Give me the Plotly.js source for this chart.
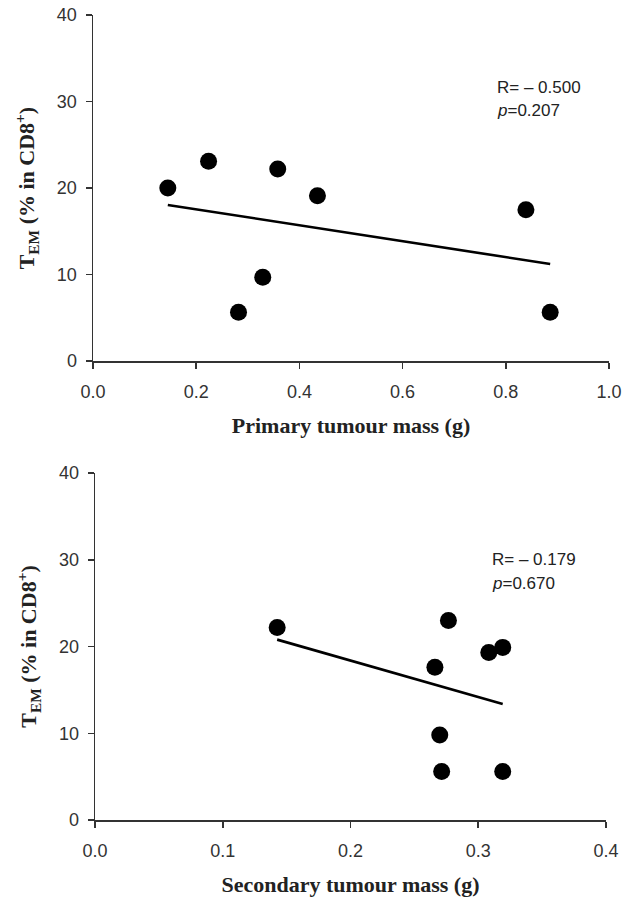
<!DOCTYPE html>
<html>
<head>
<meta charset="utf-8">
<script src="https://cdn.plot.ly/plotly-3.0.1.min.js"></script>
<style>html,body{margin:0;padding:0;background:#fff;}#chart{width:625px;height:899px;}</style>
</head>
<body>
<div id="chart"></div>
<script>
// Top panel: primary tumour mass vs T_EM
const primaryMass = [0.145, 0.224, 0.282, 0.329, 0.358, 0.435, 0.839, 0.886];
const primaryTEM  = [20.0, 23.1, 5.65, 9.7, 22.2, 19.1, 17.5, 5.65];
// Bottom panel: secondary tumour mass vs T_EM
const secondaryMass = [0.1426, 0.2767, 0.2661, 0.3083, 0.3192, 0.2699, 0.2714, 0.3192];
const secondaryTEM  = [22.2, 23.0, 17.6, 19.3, 19.9, 9.8, 5.6, 5.6];
// Statistics text
const statsPrimary = ["R= \u2013 0.500", "0.207"];
const statsSecondary = ["R= \u2013 0.179", "0.670"];
const xTicksPrimary = [0, 0.2, 0.4, 0.6, 0.8, 1.0];
const xTickTextPrimary = ["0.0", "0.2", "0.4", "0.6", "0.8", "1.0"];
const xTicksSecondary = [0, 0.1, 0.2, 0.3, 0.4];
const xTickTextSecondary = ["0.0", "0.1", "0.2", "0.3", "0.4"];
const yTicks = [0, 10, 20, 30, 40];

function linfit(x, y) {
  const n = x.length;
  const mx = x.reduce((a, b) => a + b, 0) / n;
  const my = y.reduce((a, b) => a + b, 0) / n;
  let sxy = 0, sxx = 0;
  for (let i = 0; i < n; i++) { sxy += (x[i] - mx) * (y[i] - my); sxx += (x[i] - mx) ** 2; }
  const b = sxy / sxx, a = my - b * mx;
  const x0 = Math.min(...x), x1 = Math.max(...x);
  return { x: [x0, x1], y: [a + b * x0, a + b * x1] };
}
const fit1 = linfit(primaryMass, primaryTEM);
const fit2 = linfit(secondaryMass, secondaryTEM);

const markerStyle = { color: "#000", size: 17 };
const lineStyle = { color: "#000", width: 2.6 };

const traces = [
  { x: fit1.x, y: fit1.y, mode: "lines", line: lineStyle, xaxis: "x", yaxis: "y", hoverinfo: "skip" },
  { x: primaryMass, y: primaryTEM, mode: "markers", marker: markerStyle, xaxis: "x", yaxis: "y" },
  { x: fit2.x, y: fit2.y, mode: "lines", line: lineStyle, xaxis: "x2", yaxis: "y2", hoverinfo: "skip" },
  { x: secondaryMass, y: secondaryTEM, mode: "markers", marker: markerStyle, xaxis: "x2", yaxis: "y2" }
];

const tickFont = { family: "Liberation Sans, Arial, sans-serif", size: 18, color: "#333" };
const xTitleFont = { family: "Liberation Serif, Times New Roman, serif", size: 22, color: "#222" };
const yTitleFont = { family: "Liberation Serif, Times New Roman, serif", size: 22, color: "#222" };
const yTitle = "<b>T<sub>EM</sub> (% in CD8<sup>+</sup>)</b>";

function xAxis(range, tv, tt, title, anchor, domain) {
  return {
    range: range, tickvals: tv, ticktext: tt, showgrid: false, zeroline: false,
    showline: true, linecolor: "#333", linewidth: 1.5, ticks: "outside", ticklen: 6,
    tickcolor: "#333", tickwidth: 1.5, tickfont: tickFont, ticklabelstandoff: 8,
    anchor: anchor, domain: domain,
    title: { text: "<b>" + title + "</b>", font: xTitleFont, standoff: 16 }
  };
}
function yAxis(domain, anchor) {
  return {
    range: [0, 40], tickvals: yTicks, showgrid: false, zeroline: false,
    showline: true, linecolor: "#333", linewidth: 1.5, ticks: "outside", ticklen: 6,
    tickcolor: "#333", tickwidth: 1.5, tickfont: tickFont, ticklabelstandoff: 5,
    anchor: anchor, domain: domain,
    title: { text: yTitle, font: yTitleFont, standoff: 16 }
  };
}

const statFont = { family: "Liberation Sans, Arial, sans-serif", size: 17, color: "#222" };

const layout = {
  width: 625, height: 899,
  margin: { l: 93, r: 16, t: 15, b: 79 },
  paper_bgcolor: "#fff", plot_bgcolor: "#fff",
  showlegend: false,
  xaxis: xAxis([0, 1], xTicksPrimary, xTickTextPrimary, "Primary tumour mass (g)", "y", [0, 1]),
  yaxis: yAxis([0.570, 1], "x"),
  xaxis2: xAxis([0, 0.4], xTicksSecondary, xTickTextSecondary, "Secondary tumour mass (g)", "y2", [0.004, 0.994]),
  yaxis2: yAxis([0, 0.431], "x2"),
  annotations: [
    { xref: "x", yref: "y", x: 0.78, y: 31.6, xanchor: "left", showarrow: false, text: statsPrimary[0], font: statFont },
    { xref: "x", yref: "y", x: 0.78, y: 29.0, xanchor: "left", showarrow: false, text: "<i>p</i>=" + statsPrimary[1], font: statFont },
    { xref: "x2", yref: "y2", x: 0.309, y: 30.0, xanchor: "left", showarrow: false, text: statsSecondary[0], font: statFont },
    { xref: "x2", yref: "y2", x: 0.309, y: 27.3, xanchor: "left", showarrow: false, text: "<i>p</i>=" + statsSecondary[1], font: statFont }
  ]
};

Plotly.newPlot("chart", traces, layout, { displayModeBar: false, staticPlot: true });
</script>
</body>
</html>
